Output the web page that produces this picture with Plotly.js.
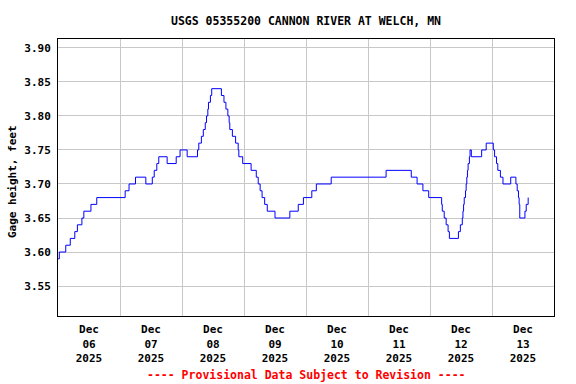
<!DOCTYPE html>
<html>
<head>
<meta charset="utf-8">
<script src="https://cdn.plot.ly/plotly-3.0.1.min.js"></script>
<style>html,body{margin:0;padding:0;background:#fff;}#chart{width:576px;height:384px;}</style>
</head>
<body>
<div id="chart"></div>
<script>
// Gage height readings (change points of the 15-minute series)
const times = [
  "2025-12-06 00:00","2025-12-06 00:30","2025-12-06 03:00","2025-12-06 04:45","2025-12-06 06:30",
  "2025-12-06 07:30","2025-12-06 09:15","2025-12-06 10:00","2025-12-06 12:45","2025-12-06 15:00",
  "2025-12-07 02:00","2025-12-07 03:30","2025-12-07 06:00","2025-12-07 10:00","2025-12-07 12:30",
  "2025-12-07 13:15","2025-12-07 14:15","2025-12-07 15:00","2025-12-07 18:15","2025-12-07 21:45",
  "2025-12-07 23:15","2025-12-08 02:00","2025-12-08 06:00","2025-12-08 06:30","2025-12-08 07:30",
  "2025-12-08 08:15","2025-12-08 09:00","2025-12-08 09:30","2025-12-08 10:00","2025-12-08 10:15",
  "2025-12-08 11:00","2025-12-08 11:30","2025-12-08 15:15","2025-12-08 16:15","2025-12-08 17:00",
  "2025-12-08 17:45","2025-12-08 18:15","2025-12-08 18:30","2025-12-08 19:30","2025-12-08 20:45",
  "2025-12-08 21:45","2025-12-08 22:00","2025-12-08 23:30","2025-12-09 02:45","2025-12-09 04:45",
  "2025-12-09 05:30","2025-12-09 06:15","2025-12-09 07:00","2025-12-09 08:00","2025-12-09 09:00",
  "2025-12-09 12:00","2025-12-09 17:45","2025-12-09 21:00","2025-12-09 23:00","2025-12-10 02:15",
  "2025-12-10 04:00","2025-12-10 09:45","2025-12-11 07:00","2025-12-11 16:45","2025-12-11 19:00",
  "2025-12-11 21:15","2025-12-11 23:30","2025-12-12 04:30","2025-12-12 04:45","2025-12-12 05:30",
  "2025-12-12 06:15","2025-12-12 07:00","2025-12-12 07:30","2025-12-12 11:00","2025-12-12 11:45",
  "2025-12-12 12:30","2025-12-12 12:45","2025-12-12 13:00","2025-12-12 13:15","2025-12-12 13:45",
  "2025-12-12 14:00","2025-12-12 14:15","2025-12-12 14:30","2025-12-12 14:45","2025-12-12 15:15",
  "2025-12-12 15:30","2025-12-12 16:00","2025-12-12 20:00","2025-12-12 21:45","2025-12-13 00:30",
  "2025-12-13 01:00","2025-12-13 01:45","2025-12-13 02:15","2025-12-13 03:15","2025-12-13 04:15",
  "2025-12-13 07:15","2025-12-13 09:15","2025-12-13 09:45","2025-12-13 10:15","2025-12-13 10:30",
  "2025-12-13 10:45","2025-12-13 12:45","2025-12-13 13:15","2025-12-13 14:00"
];
const gageHeight = [
  3.59,3.60,3.61,3.62,3.63,
  3.64,3.65,3.66,3.67,3.68,
  3.69,3.70,3.71,3.70,3.71,
  3.72,3.73,3.74,3.73,3.74,
  3.75,3.74,3.75,3.76,3.77,
  3.78,3.79,3.80,3.81,3.82,
  3.83,3.84,3.83,3.82,3.81,
  3.80,3.79,3.78,3.77,3.76,
  3.75,3.74,3.73,3.72,3.71,
  3.70,3.69,3.68,3.67,3.66,
  3.65,3.66,3.67,3.68,3.69,
  3.70,3.71,3.72,3.71,3.70,
  3.69,3.68,3.67,3.66,3.65,
  3.64,3.63,3.62,3.63,3.64,
  3.65,3.66,3.67,3.68,3.69,
  3.70,3.71,3.72,3.73,3.74,
  3.75,3.74,3.75,3.76,3.75,
  3.74,3.73,3.72,3.71,3.70,
  3.71,3.70,3.69,3.68,3.67,
  3.65,3.66,3.67,3.68
];
const chartTitle = "USGS 05355200 CANNON RIVER AT WELCH, MN";
const yAxisLabel = "Gage height, feet";
const footnote = "---- Provisional Data Subject to Revision ----";
const xRange = ["2025-12-06 00:00", "2025-12-14 00:00"];
const yRange = [3.506, 3.913];

const monoBold = {family: "DejaVu Sans Mono, Liberation Mono, monospace", size: 11, color: "#000000", weight: "bold"};

const trace = {
  type: "scatter",
  mode: "lines",
  x: times,
  y: gageHeight,
  line: {color: "#0000FF", width: 1, shape: "hv"},
  hoverinfo: "skip"
};

const layout = {
  width: 576,
  height: 384,
  paper_bgcolor: "#ffffff",
  plot_bgcolor: "#ffffff",
  margin: {l: 58, r: 22, t: 39, b: 68, pad: 0},
  showlegend: false,
  title: {
    text: chartTitle,
    font: {family: monoBold.family, size: 11.5, color: "#000000", weight: "bold"},
    xref: "paper", x: 0.5, xanchor: "center",
    yref: "container", y: 1 - 20.5/384, yanchor: "middle"
  },
  xaxis: {
    type: "date",
    range: xRange,
    tick0: "2025-12-06 00:00",
    dtick: 86400000,
    tickformat: "%b<br>%d<br>%Y",
    ticklabelmode: "period",
    ticks: "",
    ticklabelstandoff: 3,
    showgrid: true,
    gridcolor: "#c8c8c8",
    gridwidth: 1,
    showline: true,
    linecolor: "#000000",
    linewidth: 1,
    mirror: true,
    zeroline: false,
    tickfont: monoBold
  },
  yaxis: {
    range: yRange,
    tick0: 3.5,
    dtick: 0.05,
    tickformat: ".2f",
    ticks: "",
    ticklabelstandoff: 4,
    showgrid: true,
    gridcolor: "#c8c8c8",
    gridwidth: 1,
    showline: true,
    linecolor: "#000000",
    linewidth: 1,
    mirror: true,
    zeroline: false,
    tickfont: monoBold
  },
  annotations: [
    {
      text: yAxisLabel, textangle: -90, showarrow: false,
      xref: "paper", yref: "paper", x: (12 - 58) / 496, y: (316 - 182) / 277,
      xanchor: "center", yanchor: "middle",
      font: monoBold
    },
    {
      text: footnote, showarrow: false,
      xref: "paper", yref: "paper", x: 0.5, y: (316 - 375) / 277,
      xanchor: "center", yanchor: "middle",
      font: {family: monoBold.family, size: 11.5, color: "#FF0000", weight: "bold"}
    }
  ]
};

Plotly.newPlot("chart", [trace], layout, {displayModeBar: false, staticPlot: true});
</script>
</body>
</html>
